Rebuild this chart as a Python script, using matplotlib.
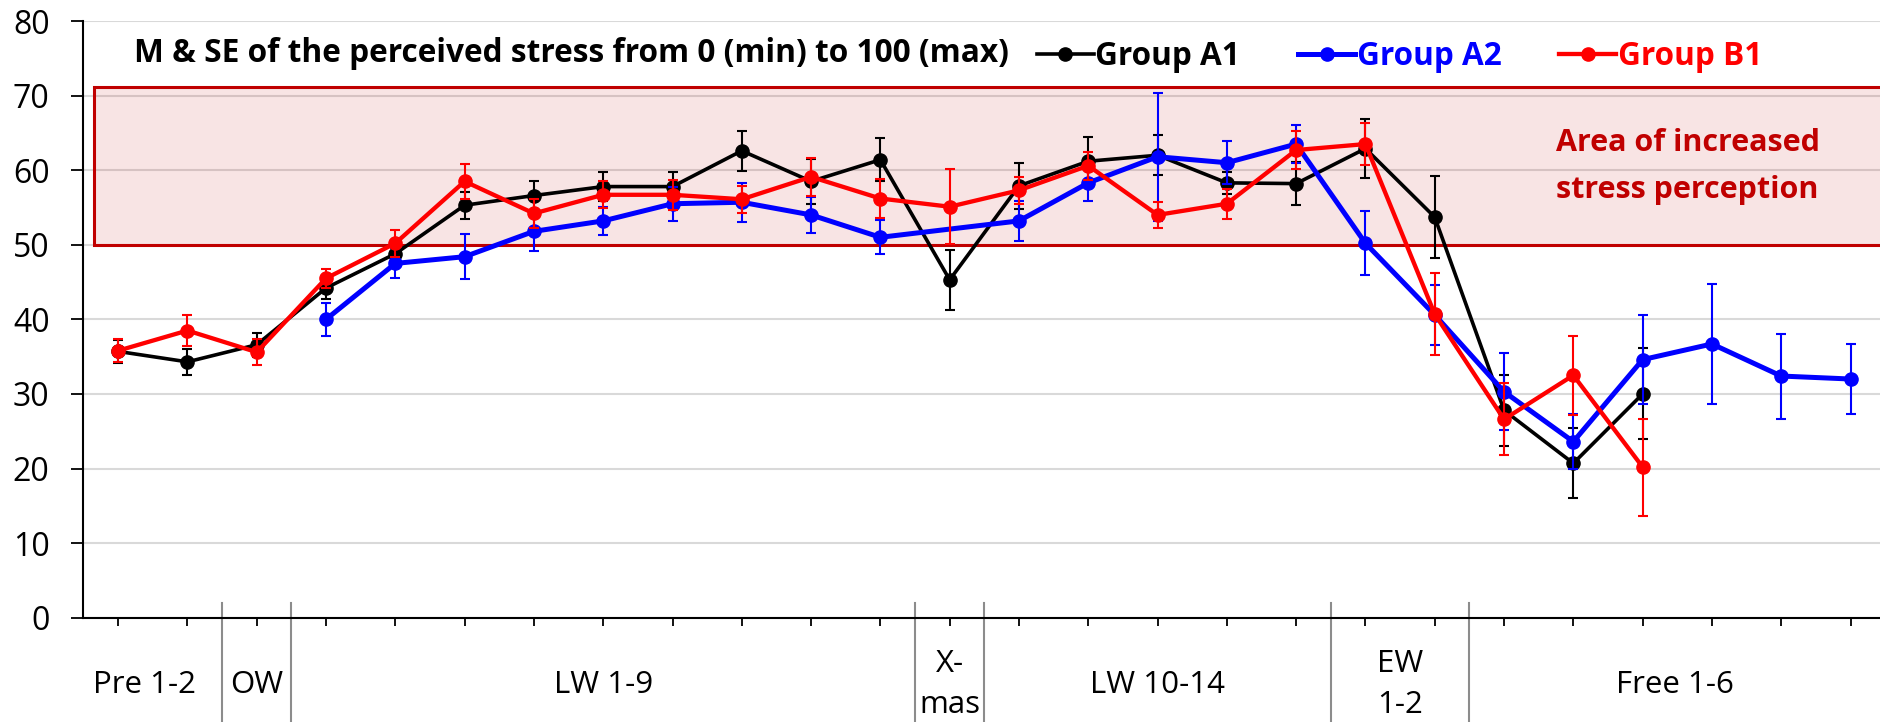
import numpy as np
import matplotlib.pyplot as plt
from matplotlib.patches import Rectangle
import matplotlib.transforms as mtransforms

plt.rcParams['font.family'] = ['Open Sans', 'DejaVu Sans']

# time points (26 categories) and groups shown below the axis
n_points = 26
group_names = ["Pre 1-2", "OW", "LW 1-9", "X-\nmas", "LW 10-14", "EW\n1-2", "Free 1-6"]
group_sizes = [2, 1, 9, 1, 5, 2, 6]
series_names = ["Group A1", "Group A2", "Group B1"]

nan = np.nan
# Group A1 (black)
a1_mean = [35.7, 34.3, 36.6, 44.2, 48.8, 55.3, 56.6, 57.8, 57.8, 62.6, 58.5, 61.4, 45.3,
           57.9, 61.2, 62.0, 58.3, 58.2, 62.9, 53.7, 27.8, 20.7, 30.0]
a1_se = [1.5, 1.7, 1.6, 1.5, 1.2, 1.8, 1.9, 1.9, 2.0, 2.7, 3.0, 2.9, 4.0,
         3.1, 3.3, 2.7, 1.5, 2.9, 4.0, 5.5, 4.8, 4.7, 6.1]
# Group A2 (blue) - no values before week 3 and at X-mas
a2_mean = [nan, nan, nan, 40.0, 47.5, 48.4, 51.8, 53.2, 55.5, 55.7, 54.0, 51.0, nan,
           53.2, 58.3, 61.8, 61.0, 63.5, 50.2, 40.6, 30.3, 23.6, 34.6, 36.7, 32.4, 32.0]
a2_se = [nan, nan, nan, 2.2, 2.0, 3.0, 2.6, 1.9, 2.3, 2.6, 2.4, 2.3, nan,
         2.7, 2.4, 8.6, 2.9, 2.6, 4.3, 4.0, 5.2, 3.7, 6.0, 8.1, 5.7, 4.7]
# Group B1 (red)
b1_mean = [35.8, 38.5, 35.6, 45.5, 50.2, 58.5, 54.2, 56.7, 56.7, 56.1, 59.1, 56.2, 55.1,
           57.3, 60.6, 54.0, 55.5, 62.7, 63.5, 40.7, 26.6, 32.5, 20.2]
b1_se = [1.5, 2.1, 1.7, 1.3, 1.8, 2.3, 2.0, 1.8, 2.0, 1.8, 2.5, 2.6, 5.0,
         1.8, 1.9, 1.7, 2.0, 2.5, 2.8, 5.45, 4.8, 5.3, 6.5]

fig = plt.figure(figsize=(18.81, 7.22), dpi=100)
ax = fig.add_axes([83.5 / 1881, 104.3 / 722, 1 - 83.5 / 1881, 596.7 / 722])

def draw(mean, se, color, lw, z):
    m = np.array(mean, dtype=float)
    s = np.array(se, dtype=float)
    xs = np.arange(len(m))
    ok = ~np.isnan(m)
    eb = ax.errorbar(xs[ok], m[ok], yerr=s[ok], color=color, lw=lw, marker='o', ms=9.5,
                     mec=color, mfc=color, ecolor=color, elinewidth=1.5, capsize=3.8,
                     capthick=1.5, zorder=z)
    return eb[0]

l1 = draw(a1_mean, a1_se, "black", 2.6, 3)
l2 = draw(a2_mean, a2_se, "#0000FF", 3.6, 4)
l3 = draw(b1_mean, b1_se, "#FF0000", 3.1, 5)

# area of increased stress perception
ax.add_patch(Rectangle((-0.35, 50), 30, 21.2, facecolor=(0.75, 0, 0, 0.106),
                       edgecolor="#C00000", lw=2.2, zorder=1))
ax.text(20.75, 63.6, "Area of increased", color="#C00000", fontsize=22, fontweight="bold",
        ha="left", va="center")
ax.text(20.75, 57.3, "stress perception", color="#C00000", fontsize=22, fontweight="bold",
        ha="left", va="center")

ax.text(0.23, 75.6, "M & SE of the perceived stress from 0 (min) to 100 (max)",
        fontsize=22.8, fontweight="bold", ha="left", va="center")

leg = ax.legend(handles=[l1, l2, l3], labels=series_names, loc="center left",
                bbox_to_anchor=(0.5305, 0.94), ncol=3, frameon=False, handlelength=1.8,
                handletextpad=0.05, columnspacing=1.84, borderpad=0, borderaxespad=0,
                prop={"size": 22.7, "weight": "bold"})
for txt, c in zip(leg.get_texts(), ["black", "#0000FF", "#FF0000"]):
    txt.set_color(c)

ax.set_xlim(-0.5, 25.44)
ax.set_ylim(0, 80)
ax.set_yticks(np.arange(0, 81, 10))
ax.set_xticks(np.arange(n_points))
ax.set_xticklabels([])
ax.tick_params(axis="y", labelsize=23, length=8.4, width=1.3, pad=16)
ax.tick_params(axis="x", length=5.5, width=1.3)
ax.grid(axis="y", color="#D9D9D9", lw=1.5)
ax.set_axisbelow(True)
for s in ["top", "right"]:
    ax.spines[s].set_visible(False)
ax.spines["left"].set_linewidth(1.5)
ax.spines["bottom"].set_linewidth(1.5)

# group labels and dividers under the axis
trans = mtransforms.blended_transform_factory(ax.transData, ax.transAxes)
edges = np.cumsum([0] + group_sizes) - 0.5
for i, name in enumerate(group_names):
    left = max(edges[i], -0.7)
    right = min(edges[i + 1], 25.44)
    cx = (left + right) / 2
    if i == 0:
        cx = 0.38
    ax.text(cx, -0.112, name, transform=trans, ha="center", va="center", fontsize=22.5,
            linespacing=1.45, clip_on=False)
for e in edges[1:-1]:
    ax.plot([e, e], [0.025, -0.2], transform=trans, color="#8C8C8C", lw=1.5,
            clip_on=False, zorder=1)

fig.savefig("out.png", dpi=100)
